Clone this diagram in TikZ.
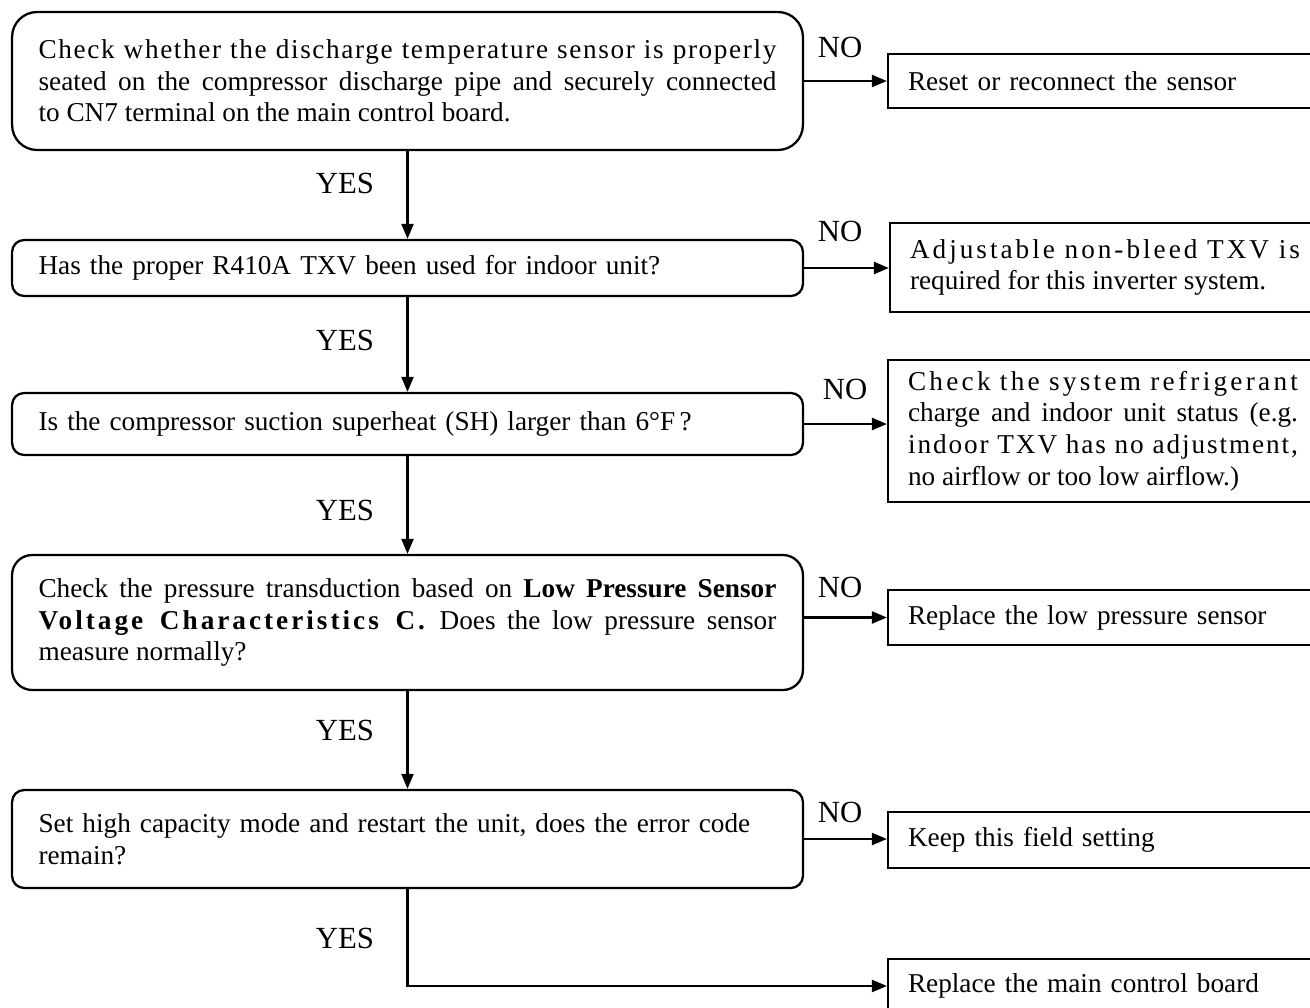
\documentclass[tikz,border=0pt]{standalone}
\usepackage{fontspec}
\setmainfont{Liberation Serif}
\usetikzlibrary{positioning,arrows.meta}
\newcommand{\wide}[2]{{\addfontfeature{LetterSpace=#1}#2}}
\tikzset{
    question/.style={
        draw,
        line width=1.3pt,
        rounded corners=#1,
        align=justify,
        text width=14.76cm,
        minimum width=15.82cm,
        inner sep=0pt,
        font=\fontsize{15.5}{18}\selectfont
    },
    question/.default=0.24cm,
    action/.style={
        draw,
        line width=1.3pt,
        align=justify,
        text width=7.8cm,
        minimum width=8.6cm,
        inner sep=0pt,
        font=\fontsize{15.5}{18}\selectfont
    },
    answer/.style={
        font=\fontsize{17.5}{20}\selectfont,
        inner sep=0pt
    },
    arrow/.style={-{Triangle[length=0.3cm,width=0.24cm]}, line width=1.3pt}
}

\begin{document}
\begin{tikzpicture}[x=0.02cm,y=-0.02cm]
\useasboundingbox (0,0) rectangle (1310,1007);

% ------------------------------------------------------------
% Questions
% ------------------------------------------------------------

\node[question=0.5cm, minimum height=2.76cm] (sensor) at (407.5,81)
{\wide{6}{Check whether the discharge temperature sensor is properly}\linebreak
seated on the compressor discharge pipe and securely connected\linebreak
to CN7 terminal on the main control board.};

\node[question, minimum height=1.12cm, align=left] (txv) at (407.5,268)
{Has the proper R410A TXV been used for indoor unit?};

\node[question, minimum height=1.24cm, align=left] (superheat) at (407.5,424)
{Is the compressor suction superheat (SH) larger than 6\textdegree F\,?};

\node[question=0.4cm, minimum height=2.7cm] (pressure) at (407.5,622.5)
{Check the pressure transduction based on \textbf{Low Pressure Sensor}\linebreak
\wide{11}{\textbf{Voltage Characteristics C.}} Does the low pressure sensor\linebreak
measure normally?};

\node[question, minimum height=1.96cm, align=left] (capacity) at (407.5,839)
{Set high capacity mode and restart the unit, does the error code\\
remain?};

% ------------------------------------------------------------
% Actions
% ------------------------------------------------------------

\node[action, minimum height=1.08cm, align=left] (reset) at (1103,81)
{Reset or reconnect the sensor};

\node[action, minimum height=1.78cm] (nonbleed) at (1105,267.5)
{\wide{11}{Adjustable \mbox{non-bleed} TXV is}\linebreak required for this inverter system.};

\node[action, minimum height=2.84cm] (charge) at (1103,431)
{\wide{12}{Check the system refrigerant}\linebreak
charge and indoor unit status (e.g.\linebreak
\wide{7}{indoor TXV has no adjustment,}\linebreak
no airflow or too low airflow.)};

\node[action, minimum height=1.1cm, align=left] (lowsensor) at (1103,617.5)
{Replace the low pressure sensor};

\node[action, minimum height=1.12cm, align=left] (keep) at (1103,840)
{Keep this field setting};

\node[action, minimum height=1.08cm, align=left] (board) at (1103,986)
{Replace the main control board};

% ------------------------------------------------------------
% Connectors
% ------------------------------------------------------------

\draw[arrow] (sensor.east) -- (reset.west);
\draw[arrow] (txv.east) -- (txv.east -| nonbleed.west);
\draw[arrow] (superheat.east) -- (superheat.east -| charge.west);
\draw[arrow] (lowsensor.west -| pressure.east) -- (lowsensor.west);
\draw[arrow] (capacity.east) -- (capacity.east -| keep.west);

\draw[arrow] (sensor.south) -- (txv.north);
\draw[arrow] (txv.south) -- (superheat.north);
\draw[arrow] (superheat.south) -- (pressure.north);
\draw[arrow] (pressure.south) -- (capacity.north);
\draw[arrow] (capacity.south) |- (board.west);

% Labels
\node[answer] (no1) at (840,47) {NO};
\node[answer] (no2) at (840,231) {NO};
\node[answer] (no3) at (845,389) {NO};
\node[answer] (no4) at (840,587) {NO};
\node[answer] (no5) at (840,812) {NO};

\node[answer] (yes1) at (345,183) {YES};
\node[answer] (yes2) at (345,340) {YES};
\node[answer] (yes3) at (345,510) {YES};
\node[answer] (yes4) at (345,730) {YES};
\node[answer] (yes5) at (345,938) {YES};

\end{tikzpicture}
\end{document}
